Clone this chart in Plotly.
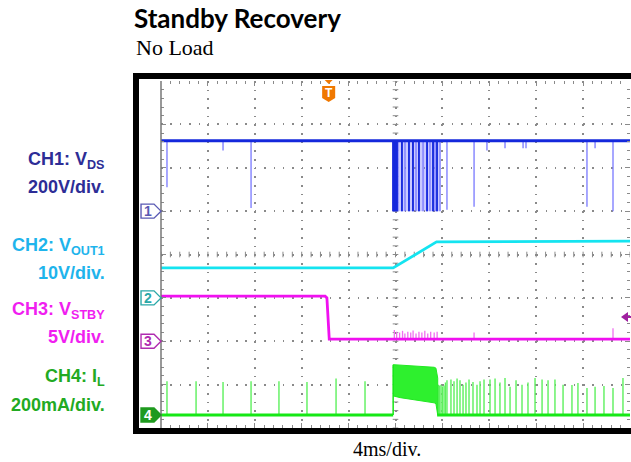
import plotly.graph_objects as go

# ---------------- data (time in ms, levels in screen divisions from bottom) ----------------
time_range = [-20, 20]
level_range = [0, 8]

ch_labels = ["CH1: V<sub>DS</sub>", "CH2: V<sub>OUT1</sub>", "CH3: V<sub>STBY</sub>", "CH4: I<sub>L</sub>"]
ch_scales = ["200V/div.", "10V/div.", "5V/div.", "200mA/div."]
ch_ground = [5.0, 3.0, 2.0, 0.3]
ch_names = ["1", "2", "3", "4"]

trigger_time = -5.7
trigger_level = 2.56

# CH1  V_DS
ch1_t = [-20, 20]
ch1_v = [6.62, 6.62]
ch1_dip_t = [-19.49, -14.71, -12.32,
             -0.21, -0.12, -0.04, 0.05, 0.13, 0.21, 0.55, 0.81, 1.15, 1.49, 1.75, 2.00,
             2.35, 2.69, 2.94, 3.20, 3.37, 3.54, 3.80,
             4.39, 6.70, 7.80, 9.34, 10.88, 11.13, 16.33, 17.02, 18.55]
ch1_dip_v = [5.55, 6.40, 5.07,
             5.0, 5.0, 5.0, 5.0, 5.0, 5.0, 5.0, 5.0, 5.0, 5.0, 5.0, 5.0,
             5.0, 5.0, 5.0, 5.0, 5.0, 5.0, 5.0,
             5.03, 5.10, 6.40, 6.45, 6.45, 6.45, 5.10, 6.45, 5.0]
ch1_burst_t = [-0.2, 3.8]
ch1_dark_t = [-0.21, -0.12, -0.04, 0.05, 0.13, 0.55, 1.15, 1.49, 2.00, 2.69, 3.20, 3.54]

# CH2  V_OUT1
ch2_t = [-20, -0.2, 3.5, 20]
ch2_v = [3.69, 3.69, 4.29, 4.31]

# CH3  V_STBY
ch3_t = [-20, -6.0, -5.85, -5.65, 20]
ch3_v = [3.04, 3.04, 3.00, 2.05, 2.05]
ch3_spike_t = [-0.1, 0.1, 0.35, 0.6, 0.8, 1.05, 1.3, 1.5, 1.75, 2.0, 2.25, 2.5, 2.75, 3.0, 3.3, 3.55, 6.7, 18.55]
ch3_spike_v = [2.26, 2.22, 2.20, 2.24, 2.18, 2.22, 2.20, 2.25, 2.18, 2.22, 2.20, 2.24, 2.18, 2.22, 2.20, 2.22, 2.20, 2.30]

# CH4  I_L
ch4_base_t = [[-20, -0.2], [3.55, 20]]
ch4_base_v = 0.3
ch4_spike_t = [-19.49, -17.01, -14.71, -12.32, -9.94, -7.55, -5.07, -2.60,
               3.65, 3.75, 3.88, 4.00, 4.14, 4.26, 4.39, 4.73, 4.99, 5.25, 5.50, 5.76, 6.01, 6.27,
               6.61, 6.95, 7.21, 7.55, 8.06, 8.49, 8.91, 9.34, 9.77, 10.28, 10.79, 11.30,
               11.90, 12.50, 13.01, 13.60, 14.29, 15.05, 15.56, 16.33, 17.02, 17.78, 18.55, 19.40]
ch4_spike_v = [1.08, 1.08, 1.06, 1.08, 1.08, 1.06, 1.14, 1.08,
               1.00, 0.98, 1.00, 0.96, 0.98, 1.05, 1.10, 1.12, 1.08, 1.14, 1.10, 1.00, 1.05, 1.12,
               1.06, 1.00, 1.08, 1.12, 1.12, 1.14, 1.05, 1.15, 0.95, 1.10, 1.00, 1.05,
               1.15, 1.12, 1.10, 1.12, 1.00, 0.99, 1.04, 0.92, 0.95, 0.97, 0.92, 1.15]
burst_t = [-0.2, 0.4, 1.2, 2.0, 2.8, 3.3, 3.45, 3.6]
burst_hi = [1.46, 1.45, 1.43, 1.42, 1.41, 1.40, 1.38, 1.15]
burst_lo = [0.74, 0.70, 0.66, 0.63, 0.60, 0.58, 0.56, 0.30]

# ---------------- colours ----------------
C1, C1L = "#1428dc", "#7878ff"
C2 = "#14e4f0"
C3, C3L = "#f010f0", "#f070f0"
C4, C4L = "#16e816", "#5cf05c"
label_colors = ["#2d2d96", "#1eb4ec", "#f01ef0", "#22aa22"]
marker_colors = ["#5a5ab4", "#2aa8a8", "#b02cb0", "#1f9a1f"]
GRID = "#8a8a8a"

# ---------------- layout geometry helpers (pixel -> paper) ----------------
L, R, T, B = 161, 1, 81, 34
W, H = 631, 462
PW, PH = W - L - R, H - T - B


def X(px):
    return (px - L) / PW


def Y(py):
    return (H - B - py) / PH


def t2px(t):
    return L + (t - time_range[0]) / (time_range[1] - time_range[0]) * PW


def d2py(d):
    return H - B - (d - level_range[0]) / (level_range[1] - level_range[0]) * PH


def segs(ts, vs, base):
    xs, ys = [], []
    for t, v in zip(ts, vs):
        xs += [t, t, None]
        ys += [base, v, None]
    return xs, ys


fig = go.Figure()

# centre-cross tick marks of the graticule
minor_x = [time_range[0] + 0.8 * k for k in range(51)]
minor_y = [0.2 * k for k in range(41)]
fig.add_trace(go.Scatter(x=minor_x, y=[4] * len(minor_x), mode="markers", hoverinfo="skip",
                         marker=dict(symbol="line-ns", size=4, line=dict(width=1, color=GRID))))
fig.add_trace(go.Scatter(x=[0] * len(minor_y), y=minor_y, mode="markers", hoverinfo="skip",
                         marker=dict(symbol="line-ew", size=4, line=dict(width=1, color=GRID))))

# CH1
fig.add_trace(go.Scatter(x=[ch1_burst_t[0], ch1_burst_t[1], ch1_burst_t[1], ch1_burst_t[0]],
                         y=[5.0, 5.0, ch1_v[0], ch1_v[0]], fill="toself",
                         fillcolor="rgba(120,120,255,0.40)", line=dict(width=0), mode="lines"))
dx, dy = segs(ch1_dip_t, ch1_dip_v, ch1_v[0])
fig.add_trace(go.Scatter(x=dx, y=dy, mode="lines", line=dict(color=C1L, width=1.3)))
bx, by = segs(ch1_dark_t, [5.0] * len(ch1_dark_t), ch1_v[0])
fig.add_trace(go.Scatter(x=bx, y=by, mode="lines", line=dict(color=C1, width=1.8)))
fig.add_trace(go.Scatter(x=ch1_t, y=ch1_v, mode="lines", line=dict(color=C1, width=3)))

# CH2
fig.add_trace(go.Scatter(x=ch2_t, y=ch2_v, mode="lines", line=dict(color=C2, width=2.8)))

# CH3
sx, sy = segs(ch3_spike_t, ch3_spike_v, ch3_v[-1])
fig.add_trace(go.Scatter(x=sx, y=sy, mode="lines", line=dict(color=C3L, width=1.3)))
fig.add_trace(go.Scatter(x=ch3_t, y=ch3_v, mode="lines", line=dict(color=C3, width=2.8)))

# CH4
sx, sy = segs(ch4_spike_t, ch4_spike_v, ch4_base_v)
fig.add_trace(go.Scatter(x=sx, y=sy, mode="lines", line=dict(color=C4L, width=1.4)))
fig.add_trace(go.Scatter(x=burst_t + burst_t[::-1], y=burst_hi + burst_lo[::-1], fill="toself",
                         fillcolor="#2ef02e", line=dict(color="#22e822", width=1), mode="lines"))
fig.add_trace(go.Scatter(x=[burst_t[0], burst_t[0]], y=[ch4_base_v, burst_hi[0]], mode="lines",
                         line=dict(color=C4, width=1.5)))
for seg in ch4_base_t:
    fig.add_trace(go.Scatter(x=seg, y=[ch4_base_v, ch4_base_v], mode="lines",
                             line=dict(color=C4, width=2.8)))

shapes = []
annotations = []

# outer black frame
shapes.append(dict(type="rect", xref="paper", yref="paper", x0=X(136), x1=X(700), y0=Y(431), y1=Y(76),
                   line=dict(color="black", width=6), fillcolor="rgba(0,0,0,0)", layer="above"))
# left graticule edge
shapes.append(dict(type="line", xref="paper", yref="paper", x0=0, x1=0, y0=0, y1=1,
                   line=dict(color="#777777", width=1.5), layer="above"))

# channel ground markers
for name, g, col, i in zip(ch_names, ch_ground, marker_colors, range(4)):
    cy = d2py(g)
    path = "M{:.4f},{:.4f} L{:.4f},{:.4f} L{:.4f},{:.4f} L{:.4f},{:.4f} L{:.4f},{:.4f} Z".format(
        X(141), Y(cy - 7), X(154), Y(cy - 7), X(161), Y(cy), X(154), Y(cy + 7), X(141), Y(cy + 7))
    filled = (i == 3)
    shapes.append(dict(type="path", xref="paper", yref="paper", path=path,
                       line=dict(color=col, width=1.4),
                       fillcolor=col if filled else "white", layer="above"))
    annotations.append(dict(xref="paper", yref="paper", x=X(148), y=Y(cy), text="<b>%s</b>" % name,
                            showarrow=False, xanchor="center", yanchor="middle",
                            font=dict(family="Liberation Sans", size=14, color="white" if filled else col)))

# trigger position badge
tx = t2px(trigger_time)
shapes.append(dict(type="path", xref="paper", yref="paper",
                   path="M{:.4f},{:.4f} L{:.4f},{:.4f} L{:.4f},{:.4f} Z".format(
                       X(tx - 4), Y(80), X(tx + 4), Y(80), X(tx), Y(84)),
                   fillcolor="#f07800", line=dict(width=0), layer="above"))
shapes.append(dict(type="path", xref="paper", yref="paper",
                   path="M{:.4f},{:.4f} L{:.4f},{:.4f} L{:.4f},{:.4f} L{:.4f},{:.4f} L{:.4f},{:.4f} Z".format(
                       X(tx - 6.5), Y(86), X(tx + 6.5), Y(86), X(tx + 6.5), Y(98), X(tx), Y(102), X(tx - 6.5), Y(98)),
                   fillcolor="#f07800", line=dict(width=0), layer="above"))
annotations.append(dict(xref="paper", yref="paper", x=X(tx), y=Y(93), text="<b>T</b>", showarrow=False,
                        xanchor="center", yanchor="middle",
                        font=dict(family="Liberation Sans", size=12, color="white")))

# trigger level arrow
ly = d2py(trigger_level)
shapes.append(dict(type="path", xref="paper", yref="paper",
                   path="M{:.4f},{:.4f} L{:.4f},{:.4f} L{:.4f},{:.4f} Z".format(
                       X(621), Y(ly), X(628), Y(ly - 5), X(628), Y(ly + 5)),
                   fillcolor="#a020a0", line=dict(width=0), layer="above"))
shapes.append(dict(type="line", xref="paper", yref="paper", x0=X(627), x1=X(632), y0=Y(ly), y1=Y(ly),
                   line=dict(color="#a020a0", width=2), layer="above"))

# channel labels
label_y = [160, 247, 310, 377]
scale_y = [187, 273, 337, 405]
for lab, sc, col, y1, y2 in zip(ch_labels, ch_scales, label_colors, label_y, scale_y):
    annotations.append(dict(xref="paper", yref="paper", x=X(107), y=Y(y1), text="<b>%s</b>" % lab,
                            showarrow=False, xanchor="right", yanchor="middle",
                            font=dict(family="Liberation Sans", size=18, color=col)))
    annotations.append(dict(xref="paper", yref="paper", x=X(107), y=Y(y2), text="<b>%s</b>" % sc,
                            showarrow=False, xanchor="right", yanchor="middle",
                            font=dict(family="Liberation Sans", size=18, color=col)))

# titles
annotations.append(dict(xref="paper", yref="paper", x=X(132), y=Y(18), text="<b>Standby Recovery</b>",
                        showarrow=False, xanchor="left", yanchor="middle",
                        font=dict(family="Lato", size=26, color="black")))
annotations.append(dict(xref="paper", yref="paper", x=X(134), y=Y(47), text="No Load",
                        showarrow=False, xanchor="left", yanchor="middle",
                        font=dict(family="Liberation Serif", size=22, color="black")))
annotations.append(dict(xref="paper", yref="paper", x=X(387), y=Y(449), text="4ms/div.",
                        showarrow=False, xanchor="center", yanchor="middle",
                        font=dict(family="Liberation Serif", size=20, color="black")))

fig.update_layout(
    width=W, height=H, margin=dict(l=L, r=R, t=T, b=B),
    paper_bgcolor="white", plot_bgcolor="white", showlegend=False,
    shapes=shapes, annotations=annotations,
    xaxis=dict(range=time_range, tick0=time_range[0], dtick=4, showticklabels=False,
               ticks="inside", ticklen=5, tickcolor=GRID, mirror="ticks", showline=False,
               showgrid=True, gridcolor=GRID, gridwidth=1.5, griddash="1.5px,7.17px",
               zeroline=False, fixedrange=True,
               minor=dict(dtick=0.8, tick0=time_range[0], ticks="inside", ticklen=3,
                          tickcolor=GRID, showgrid=False)),
    yaxis=dict(range=level_range, tick0=0, dtick=1, showticklabels=False,
               ticks="inside", ticklen=5, tickcolor=GRID, mirror="ticks", showline=False,
               showgrid=True, gridcolor=GRID, gridwidth=1.5, griddash="1.5px,7.88px",
               zeroline=False, fixedrange=True,
               minor=dict(dtick=0.2, tick0=0, ticks="inside", ticklen=3,
                          tickcolor=GRID, showgrid=False)),
)

fig.write_html("out.html", config={"displayModeBar": False},
               post_script="document.body.style.margin='0';document.body.style.overflow='hidden';")
